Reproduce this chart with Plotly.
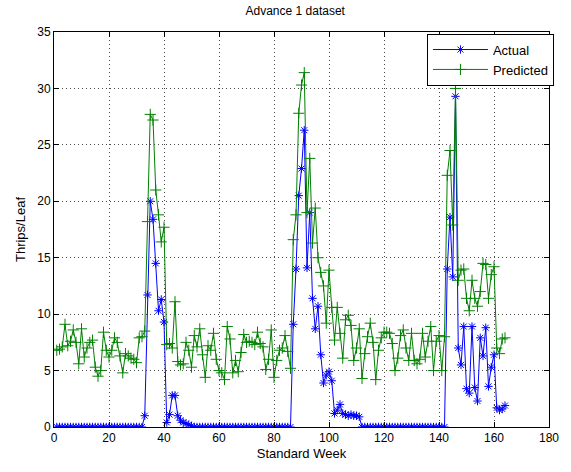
import plotly.graph_objects as go

weeks = list(range(1, 165))

actual = (
    [0.0] * 32
    + [1.0, 11.7, 20.0, 18.4, 14.5, 10.3, 11.3, 9.3, 0.4, 1.1, 2.8, 2.8, 1.0, 0.6, 0.4, 0.3, 0.2, 0.1]  # w33-50
    + [0.0] * 36  # w51-86
    + [9.1, 14.0, 20.5, 22.9, 26.3, 14.1, 19.0, 11.4, 8.7, 10.7, 6.4, 3.9, 4.6, 4.9, 4.1,
       1.2, 1.5, 2.0, 1.2, 1.1, 1.0, 1.1, 1.0, 1.0, 0.9]  # w87-111
    + [0.0] * 31  # w112-142
    + [14.0, 18.6, 13.3, 29.3, 7.0, 5.5, 8.9, 3.4, 3.0, 8.9, 3.5, 2.3, 7.9, 6.3, 8.8, 3.6,
       5.3, 6.4, 1.7, 1.5, 1.6, 1.9]  # w143-164
)

predicted = (
    [6.8, 6.9, 7.1, 9.1, 7.2, 7.6, 8.6, 7.5, 5.6, 8.7, 6.2, 7.0, 7.5, 7.7, 5.3, 4.5, 5.0,
     8.4, 6.8, 6.2, 6.8, 7.9, 7.5, 6.3, 4.8, 6.5, 6.3, 6.1, 6.0, 5.7, 7.9, 8.0, 8.5]  # w1-33
    + [18.2, 27.7, 27.2, 21.0, 18.8, 16.4, 17.7]  # w34-40
    + [7.3, 7.4, 7.0, 11.1, 5.8, 5.5, 5.6, 7.5, 6.8, 5.3, 8.1, 7.1, 8.7, 6.4, 4.4, 7.2,
       6.8, 8.3, 6.0, 5.0, 4.8, 4.2, 8.9]  # w41-63
    + [7.8, 4.8, 5.9, 4.9, 6.6, 8.2, 7.5, 7.6, 7.5, 7.3, 8.4, 7.4, 7.1, 5.1, 6.0, 8.6,
       4.4, 5.9, 6.8, 7.0, 8.1, 6.7, 5.2]  # w64-86
    + [16.6, 18.8, 27.8, 30.3, 31.4, 19.0, 23.8, 16.3, 19.4, 15.0, 13.7, 12.5, 9.2]  # w87-99
    + [13.9, 10.6, 7.7, 10.6, 8.3, 6.1, 9.5, 9.9, 9.0, 5.9, 7.0, 8.7, 4.3, 6.5, 8.0, 9.2,
       7.5, 4.2, 6.8, 7.9, 8.4, 8.4, 8.3, 7.4, 5.0, 6.1, 8.1, 8.6, 7.0, 5.9, 8.3, 5.9,
       5.6, 6.0, 8.3, 6.2, 7.6, 8.9, 5.0, 7.6, 8.1, 5.0, 8.0]  # w100-142
    + [22.3, 24.5, 17.9, 30.0, 13.0, 13.9, 14.0, 11.4, 10.3, 13.0, 11.4, 10.7, 12.0, 14.5,
       14.4, 11.4, 13.5, 14.2, 7.0, 6.5, 7.8, 7.9]  # w143-164
)

x_ticks = [0, 20, 40, 60, 80, 100, 120, 140, 160, 180]
y_ticks = [0, 5, 10, 15, 20, 25, 30, 35]

fig = go.Figure()
fig.add_trace(go.Scatter(
    x=weeks, y=actual, name="Actual", mode="lines+markers",
    line=dict(color="#0000FF", width=1),
    marker=dict(symbol="asterisk-open", size=7, color="#0000FF",
                line=dict(color="#0000FF", width=1)),
))
fig.add_trace(go.Scatter(
    x=weeks, y=predicted, name="Predicted", mode="lines+markers",
    line=dict(color="#008000", width=1),
    marker=dict(symbol="cross-thin-open", size=8, color="#008000",
                line=dict(color="#008000", width=1)),
))

axis_common = dict(
    showline=True, linecolor="black", linewidth=1, mirror="allticks",
    ticks="inside", ticklen=5, tickcolor="black",
    showgrid=True, gridcolor="rgba(0,0,0,0.7)", griddash="1px,3px", gridwidth=1,
    zeroline=False, tickfont=dict(size=12, color="black"),
)

fig.update_layout(
    width=571, height=472,
    margin=dict(l=54, r=15, t=32, b=45),
    paper_bgcolor="white", plot_bgcolor="white",
    font=dict(family="Liberation Sans, Arial, sans-serif", size=12, color="black"),
    title=dict(text="Advance 1 dataset", x=0.517, xanchor="center", y=0.985, yanchor="top",
               font=dict(size=12)),
    xaxis=dict(range=[0, 180], tickvals=x_ticks,
               title=dict(text="Standard Week", standoff=4, font=dict(size=13)), **axis_common),
    yaxis=dict(range=[0, 35], tickvals=y_ticks,
               title=dict(text="Thrips/Leaf", standoff=8, font=dict(size=13)), **axis_common),
    legend=dict(x=1.01, y=0.996, xanchor="right", yanchor="top",
                bgcolor="white", bordercolor="black", borderwidth=1,
                font=dict(size=13), itemwidth=55, tracegroupgap=0),
    showlegend=True,
)

fig.write_html("out.html")
